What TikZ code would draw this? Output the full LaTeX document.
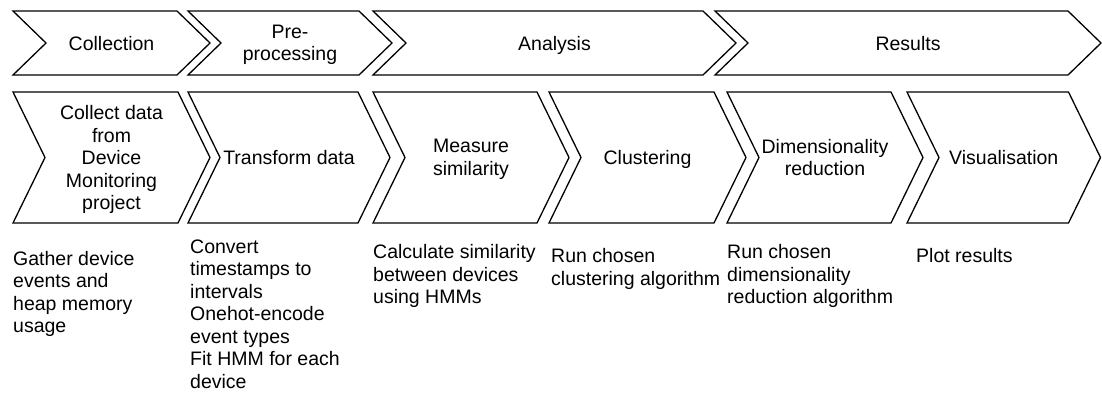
\documentclass[tikz,border=0pt]{standalone}
\usepackage{fontspec}
\setmainfont{Liberation Sans}
\usetikzlibrary{calc}

\tikzset{
  chevshape/.style={draw=black, line width=1.3pt, line join=miter, fill=white},
  chevlabel/.style={align=center, inner sep=0pt, text depth=0pt, font=\fontsize{19.5}{22.5}\selectfont},
  desclabel/.style={align=left, anchor=north west, inner sep=0pt, font=\fontsize{19.5}{22.5}\selectfont},
}

% #1 name, #2 left x, #3 right x (before the point), #4 top y, #5 bottom y, #6 point depth, #7 text
\newcommand{\chevronbox}[7]{%
  \pgfmathsetmacro{\chevmidy}{(#4+#5)/2}%
  \draw[chevshape] (#2,#4) -- (#3,#4) -- (#3+#6,\chevmidy) -- (#3,#5) -- (#2,#5)
        -- (#2+#6,\chevmidy) -- cycle;
  \node[chevlabel] (#1) at ({(#2+#6+#3)/2},\chevmidy) {#7};
}

\begin{document}
\begin{tikzpicture}[x=1pt, y=-1pt]
  \useasboundingbox (0,0) rectangle (1102,394);

  % phase row
  \chevronbox{collection}{13}{177}{11}{75}{33}{Collection}
  \chevronbox{preprocessing}{188}{359}{11}{75}{33}{Pre-\\processing}
  \chevronbox{analysis}{373}{703}{11}{75}{33}{Analysis}
  \chevronbox{results}{715}{1068}{11}{75}{33}{Results}

  % step row
  \chevronbox{collect}{13}{178}{92}{223}{32}{Collect data\\from\\Device\\Monitoring\\project}
  \chevronbox{transform}{188}{358}{92}{223}{32}{Transform data}
  \chevronbox{measure}{373}{537}{92}{223}{32}{Measure\\similarity}
  \chevronbox{clustering}{549}{714}{92}{223}{32}{Clustering}
  \chevronbox{dimred}{727}{891}{92}{223}{32}{Dimensionality\\reduction}
  \chevronbox{visual}{907}{1068.5}{92}{223}{32}{Visualisation}

  % step descriptions
  \node[desclabel] (gather) at (13,250.7) {Gather device\\events and\\heap memory\\usage};
  \node[desclabel] (convert) at (190,239.2) {Convert\\timestamps to\\intervals\\Onehot-encode\\event types\\Fit HMM for each\\device};
  \node[desclabel] (calculate) at (373,244.2) {Calculate similarity\\between devices\\using HMMs};
  \node[desclabel] (runclust) at (551,248.2) {Run chosen\\clustering algorithm};
  \node[desclabel] (rundim) at (727,244.2) {Run chosen\\dimensionality\\reduction algorithm};
  \node[desclabel] (plot) at (916,248.2) {Plot results};
\end{tikzpicture}
\end{document}
